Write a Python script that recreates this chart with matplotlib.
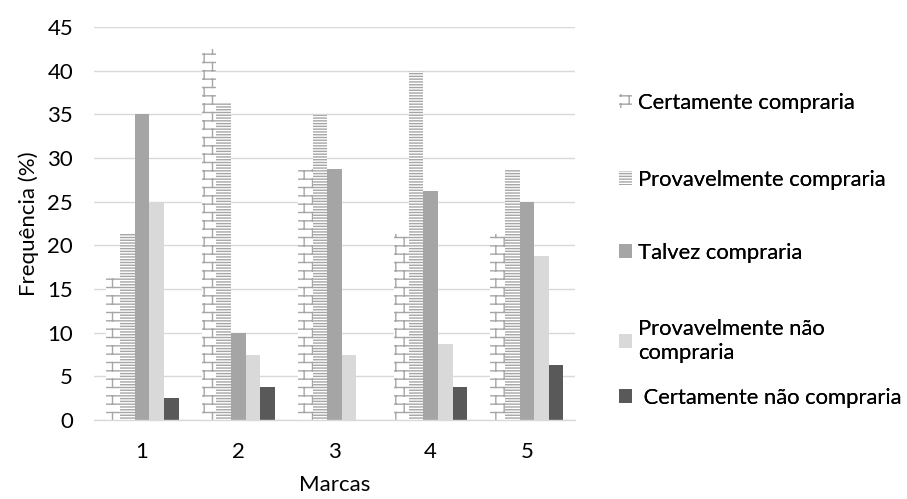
import numpy as np
import matplotlib
matplotlib.use("Agg")
import matplotlib.pyplot as plt
import matplotlib.hatch as mhatch
from matplotlib.path import Path

# ---------------- data ----------------
brands = ["1", "2", "3", "4", "5"]
series_names = ["Certamente compraria", "Provavelmente compraria", "Talvez compraria",
                "Provavelmente não\ncompraria", " Certamente não compraria"]
certamente = [16.25, 42.5, 28.75, 21.25, 21.25]
provavelmente = [21.25, 36.25, 35.0, 40.0, 28.75]
talvez = [35.0, 10.0, 28.75, 26.25, 25.0]
prov_nao = [25.0, 7.5, 7.5, 8.75, 18.75]
cert_nao = [2.5, 3.75, 0.0, 3.75, 6.25]
y_ticks = [0, 5, 10, 15, 20, 25, 30, 35, 40, 45]


# ---------------- custom "horizontal brick" hatch (triggered by 'O') ----------------
class BrickHatch(mhatch.HatchPatternBase):
    rows = 12
    cols = 6

    def __init__(self, hatch, density):
        self.on = hatch.count('O') > 0
        if self.on:
            r, c = self.rows, self.cols
            self.num_vertices = 2 * r + 2 * c * r + 2 * c
        else:
            self.num_vertices = 0

    def set_vertices_and_codes(self, vertices, codes):
        r, c = self.rows, self.cols
        h = 1.0 / r
        off = h / 2
        segs = []
        for i in range(r):
            y = off + i * h
            segs.append(((0.0, y), (1.0, y)))
        for i in range(r):
            y0 = off + i * h
            y1 = y0 + h
            for j in range(c):
                xx = (j + 0.5 * (i % 2) + 0.25) / c
                if y1 > 1.0:
                    segs.append(((xx, y0), (xx, 1.0)))
                    segs.append(((xx, 0.0), (xx, y1 - 1.0)))
                else:
                    segs.append(((xx, y0), (xx, y1)))
        for k, (a, b) in enumerate(segs):
            vertices[2 * k] = a
            vertices[2 * k + 1] = b
            codes[2 * k] = Path.MOVETO
            codes[2 * k + 1] = Path.LINETO


mhatch._hatch_types = [t for t in mhatch._hatch_types if t is not mhatch.LargeCircles] + [BrickHatch]

plt.rcParams['font.family'] = ['Lato', 'DejaVu Sans']
plt.rcParams['hatch.linewidth'] = 1.0

fig = plt.figure(figsize=(9.07, 4.99), dpi=100)
ax = fig.add_axes([94 / 907, 1 - 420 / 499, (575 - 94) / 907, (420 - 27) / 499])

x = np.arange(1, len(brands) + 1)
w = 0.152
hatch_gray = "#A6A6A6"
series = [certamente, provavelmente, talvez, prov_nao, cert_nao]
styles = [
    dict(color="white", edgecolor=hatch_gray, hatch="O", linewidth=0),
    dict(color="white", edgecolor=hatch_gray, hatch="-" * 6, linewidth=0),
    dict(color="#A5A5A5", linewidth=0),
    dict(color="#D9D9D9", linewidth=0),
    dict(color="#595959", linewidth=0),
]
containers = []
for k, (vals, st, name) in enumerate(zip(series, styles, series_names)):
    containers.append(ax.bar(x + (k - 2) * w, vals, w, label=name, zorder=2, **st))

fs = 16
ax.set_xlim(0.5, 5.5)
ax.set_ylim(0, 45)
ax.set_yticks(y_ticks)
ax.set_xticks(x)
ax.set_xticklabels(brands)
ax.grid(axis='y', color="#D9D9D9", linewidth=1.0, zorder=0)
ax.set_axisbelow(True)
for s in ["top", "right", "left"]:
    ax.spines[s].set_visible(False)
ax.spines["bottom"].set_color("#D9D9D9")
ax.spines["bottom"].set_linewidth(1.0)
ax.tick_params(axis='both', length=0, labelsize=fs, colors="black")
ax.tick_params(axis='y', pad=15)
ax.tick_params(axis='x', pad=16)
ax.set_ylabel("Frequência (%)", fontsize=fs, labelpad=6)
ax.set_xlabel("Marcas", fontsize=fs, labelpad=9)

# legend: one entry per legend box, placed down the right side
legend_y_px = [103, 180, 253, 341, 398]
for cont, name, ypx in zip(containers, series_names, legend_y_px):
    lg = fig.legend([cont], [name], loc="center left",
                    bbox_to_anchor=(619 / 907, 1 - ypx / 499), frameon=False,
                    fontsize=15.8, handlelength=0.6, handleheight=0.6, handletextpad=0.25,
                    borderaxespad=0, borderpad=0)
    fig.add_artist(lg)

fig.savefig("out.png", dpi=100)
